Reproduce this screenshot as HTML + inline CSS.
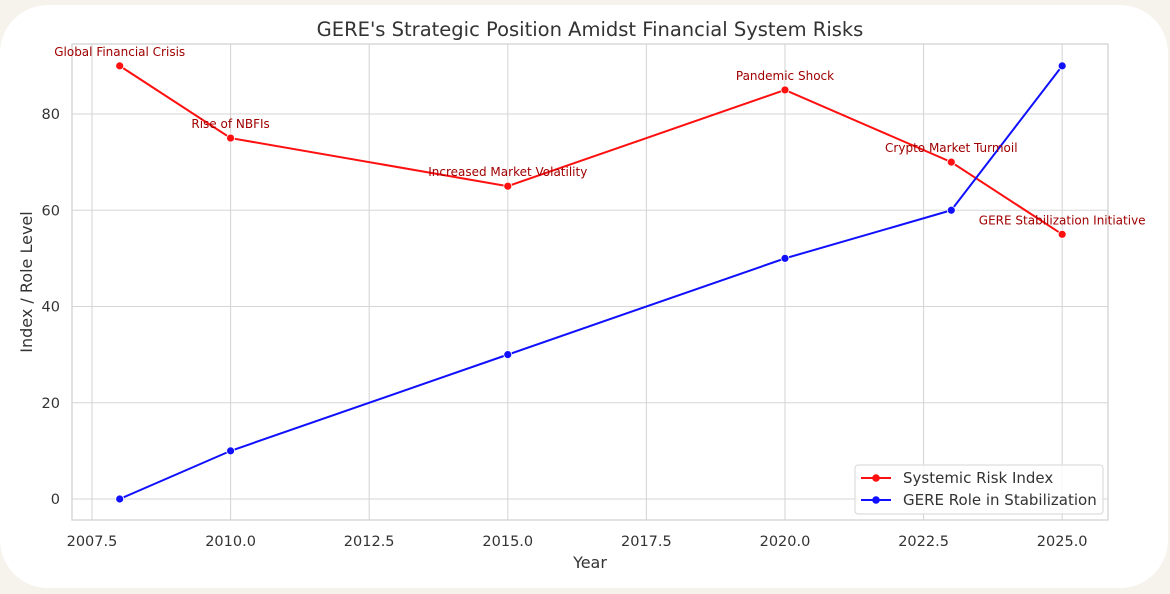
<!DOCTYPE html>
<html><head><meta charset="utf-8"><style>
html,body{margin:0;padding:0;background:#f6f2ec;}
#card{position:absolute;left:0;top:5px;width:1168px;height:583px;background:#fff;border-radius:48px;}
svg{position:absolute;left:0;top:0;font-family:"DejaVu Sans","Liberation Sans",sans-serif;}
</style></head><body>
<div id="card"></div>
<svg id="chart" width="1170" height="594"></svg>
<script>
const years=[2008,2010,2015,2020,2023,2025];
const riskValues=[90,75,65,85,70,55];
const gereValues=[0,10,30,50,60,90];
const events=["Global Financial Crisis","Rise of NBFIs","Increased Market Volatility","Pandemic Shock","Crypto Market Turmoil","GERE Stabilization Initiative"];
const xTicks=[2007.5,2010,2012.5,2015,2017.5,2020,2022.5,2025];
const yTicks=[0,20,40,60,80];

const NS="http://www.w3.org/2000/svg";
const svg=document.getElementById('chart');
const L=72,R=1108,T=44,B=520;
const x=v=>119.7+(v-2008)*55.44;
const y=v=>499-v*4.8125;
function mk(tag,attrs,parent){const e=document.createElementNS(NS,tag);for(const k in attrs)e.setAttribute(k,attrs[k]);(parent||svg).appendChild(e);return e;}

const grid=mk('g',{});


xTicks.forEach(t=>{
  const l=mk('line',{x1:x(t),x2:x(t),y1:T,y2:B,stroke:'#d6d6d6','stroke-width':1.1},grid);
  
  
  const tx=mk('text',{x:x(t),y:546,'text-anchor':'middle','font-size':14.5,fill:'#333'});
  
  
  tx.textContent=t.toFixed(1);
});
yTicks.forEach(t=>{
  const l=mk('line',{x1:L,x2:R,y1:y(t),y2:y(t),stroke:'#d6d6d6','stroke-width':1.1},grid);
  
  
  const tx=mk('text',{x:60,y:y(t)+5,'text-anchor':'end','font-size':14.5,fill:'#333'});
  
  
  tx.textContent=t;
});
const frame=mk('rect',{x:L,y:T,width:R-L,height:B-T,fill:'none',stroke:'#cfcfcf','stroke-width':1.2});



function series(vals,color,name){
  const g=mk('g',{});
  
  
  const pts=vals.map((v,i)=>x(years[i])+','+y(v)).join(' ');
  const pl=mk('polyline',{points:pts,fill:'none',stroke:color,'stroke-width':2},g);
  
  
  vals.forEach((v,i)=>{
    const c=mk('circle',{cx:x(years[i]),cy:y(v),r:4,fill:color,stroke:'#fff','stroke-width':0.8},g);
    
    
  });
}
series(riskValues,'#ff1010','systemic-risk-series');
series(gereValues,'#1010ff','gere-role-series');

events.forEach((e,i)=>{
  const tx=mk('text',{x:x(years[i]),y:y(riskValues[i])-10,'text-anchor':'middle','font-size':12,fill:'#a00000'});
  
  
  tx.textContent=e;
});

const title=mk('text',{x:590,y:36,'text-anchor':'middle','font-size':19.5,fill:'#333'});


title.textContent="GERE's Strategic Position Amidst Financial System Risks";
const xt=mk('text',{x:590,y:568,'text-anchor':'middle','font-size':16,fill:'#333'});


xt.textContent='Year';
const yt=mk('text',{x:32,y:282,'text-anchor':'middle','font-size':16,fill:'#333',transform:'rotate(-90 32 282)'});


yt.textContent='Index / Role Level';

const lg=mk('g',{});


mk('rect',{x:855,y:465,width:248,height:49,rx:3,fill:'#fff','fill-opacity':0.85,stroke:'#d6d6d6'},lg);
[['Systemic Risk Index','#ff1010',478],['GERE Role in Stabilization','#1010ff',500]].forEach(([n,c,yy])=>{
  const e=mk('g',{},lg);
  
  
  mk('line',{x1:861,x2:891,y1:yy,y2:yy,stroke:c,'stroke-width':2},e);
  mk('circle',{cx:876,cy:yy,r:3.8,fill:c},e);
  const t=mk('text',{x:903,y:yy+5,'font-size':15,fill:'#333'},e);
  t.textContent=n;
});
</script>
</body></html>
